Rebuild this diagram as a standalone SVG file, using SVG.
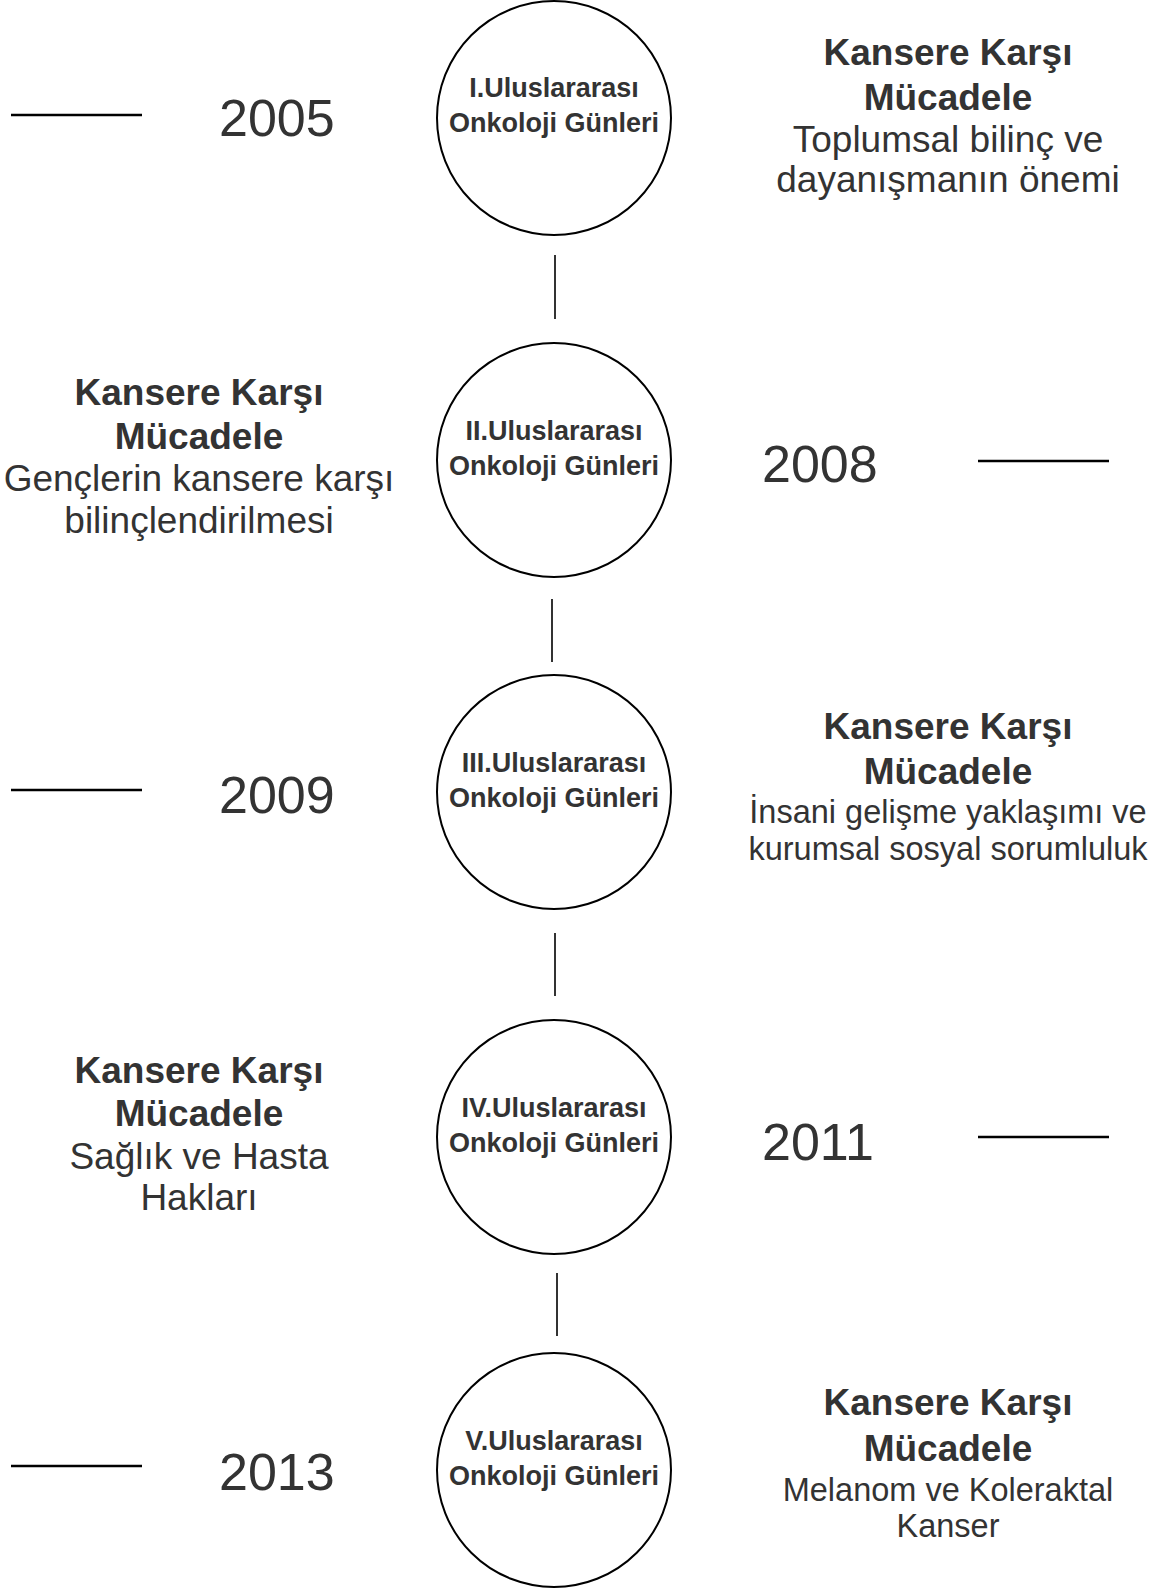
<svg xmlns="http://www.w3.org/2000/svg" width="1164" height="1589" viewBox="0 0 1164 1589">
<style>
.c{fill:#fff;stroke:#000;stroke-width:2}
.ct{font-family:"Liberation Sans",Arial,sans-serif;font-weight:bold;font-size:27px;fill:#333;text-anchor:middle}
.yr{font-family:"Liberation Sans",Arial,sans-serif;font-size:52px;fill:#333}
.b{font-family:"Liberation Sans",Arial,sans-serif;font-weight:bold;font-size:37px;fill:#333;text-anchor:middle}
.r{font-family:"Liberation Sans",Arial,sans-serif;font-size:37px;fill:#333;text-anchor:middle}
.rs{font-family:"Liberation Sans",Arial,sans-serif;font-size:32.5px;fill:#333;text-anchor:middle}
.h{stroke:#000;stroke-width:2.5}
.v{stroke:#333;stroke-width:2}
</style>
<rect width="1164" height="1589" fill="#fff"/>
<g id="connectors">
<line class="v" x1="555" y1="255" x2="555" y2="319"/>
<line class="v" x1="552" y1="599" x2="552" y2="662"/>
<line class="v" x1="555" y1="933" x2="555" y2="996"/>
<line class="v" x1="557" y1="1273" x2="557" y2="1336"/>
<line class="h" x1="11" y1="115" x2="142" y2="115"/>
<line class="h" x1="978" y1="461" x2="1109" y2="461"/>
<line class="h" x1="11" y1="790" x2="142" y2="790"/>
<line class="h" x1="978" y1="1137" x2="1109" y2="1137"/>
<line class="h" x1="11" y1="1466" x2="142" y2="1466"/>
</g>
<g id="node1">
<circle class="c" cx="554" cy="118" r="117"/>
<text class="ct" x="554" y="97">I.Uluslararası</text>
<text class="ct" x="554" y="132">Onkoloji Günleri</text>
</g>
<g id="node2">
<circle class="c" cx="554" cy="460" r="117"/>
<text class="ct" x="554" y="440">II.Uluslararası</text>
<text class="ct" x="554" y="475">Onkoloji Günleri</text>
</g>
<g id="node3">
<circle class="c" cx="554" cy="792" r="117"/>
<text class="ct" x="554" y="772">III.Uluslararası</text>
<text class="ct" x="554" y="807">Onkoloji Günleri</text>
</g>
<g id="node4">
<circle class="c" cx="554" cy="1137" r="117"/>
<text class="ct" x="554" y="1117">IV.Uluslararası</text>
<text class="ct" x="554" y="1152">Onkoloji Günleri</text>
</g>
<g id="node5">
<circle class="c" cx="554" cy="1470" r="117"/>
<text class="ct" x="554" y="1450">V.Uluslararası</text>
<text class="ct" x="554" y="1485">Onkoloji Günleri</text>
</g>
<g id="year2005"><text class="yr" x="219" y="136">2005</text></g>
<g id="year2008"><text class="yr" x="762" y="482">2008</text></g>
<g id="year2009"><text class="yr" x="219" y="813">2009</text></g>
<g id="year2011"><text class="yr" x="762" y="1160">2011</text></g>
<g id="year2013"><text class="yr" x="219" y="1490">2013</text></g>
<g id="desc1">
<text class="b" x="948" y="65">Kansere Karşı</text>
<text class="b" x="948" y="110">Mücadele</text>
<text class="r" x="948" y="152">Toplumsal bilinç ve</text>
<text class="r" x="948" y="192">dayanışmanın önemi</text>
</g>
<g id="desc2">
<text class="b" x="199" y="405">Kansere Karşı</text>
<text class="b" x="199" y="449">Mücadele</text>
<text class="r" x="199" y="491">Gençlerin kansere karşı</text>
<text class="r" x="199" y="533">bilinçlendirilmesi</text>
</g>
<g id="desc3">
<text class="b" x="948" y="739">Kansere Karşı</text>
<text class="b" x="948" y="784">Mücadele</text>
<text class="rs" x="948" y="823">İnsani gelişme yaklaşımı ve</text>
<text class="rs" x="948" y="860">kurumsal sosyal sorumluluk</text>
</g>
<g id="desc4">
<text class="b" x="199" y="1083">Kansere Karşı</text>
<text class="b" x="199" y="1126">Mücadele</text>
<text class="r" x="199" y="1169">Sağlık ve Hasta</text>
<text class="r" x="199" y="1210">Hakları</text>
</g>
<g id="desc5">
<text class="b" x="948" y="1415">Kansere Karşı</text>
<text class="b" x="948" y="1461">Mücadele</text>
<text class="rs" x="948" y="1501">Melanom ve Koleraktal</text>
<text class="rs" x="948" y="1537">Kanser</text>
</g>
</svg>
